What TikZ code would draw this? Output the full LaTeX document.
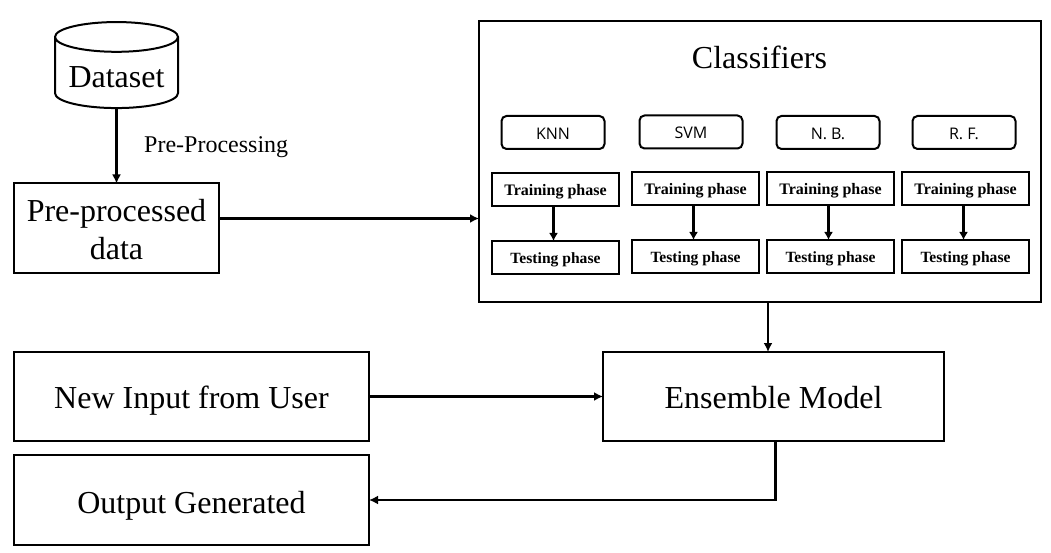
\documentclass[tikz,border=0pt]{standalone}
\usepackage{fontspec}
\setmainfont{Liberation Serif}
\setsansfont{Open Sans}
\usetikzlibrary{positioning,arrows.meta,shapes.geometric}
\tikzset{
  big box/.style={
    draw,
    line width=2pt,
    inner sep=0pt,
    outer sep=0pt,
    align=center,
    minimum width={#1pt},
    minimum height=89pt,
    text height=26pt,
    text depth=3pt,
    font=\fontsize{32}{38}\selectfont,
  },
  method box/.style={
    draw,
    line width=2pt,
    rounded corners=5pt,
    inner sep=0pt,
    outer sep=0pt,
    minimum width=103pt,
    minimum height=33pt,
    text height=14pt,
    text depth=0pt,
    font=\sffamily\fontsize{16}{18}\selectfont,
  },
  phase box/.style={
    draw,
    line width=2pt,
    inner sep=0pt,
    outer sep=0pt,
    minimum width=127pt,
    minimum height=33pt,
    text height=13pt,
    text depth=0pt,
    font=\bfseries\fontsize{16}{18}\selectfont,
  },
  test box/.style={
    phase box,
    text height=11pt,
    font=\bfseries\fontsize{15.6}{18}\selectfont,
  },
  flow/.style={
    line width=2.8pt,
    -{Latex[length=9pt,width=9pt]},
  },
  small flow/.style={
    line width=2.8pt,
    -{Latex[length=8pt,width=9pt]},
  },
}
\begin{document}
\begin{tikzpicture}[x=1pt,y=1pt]
    \useasboundingbox (0,0) rectangle (1051,-553);

    \node [draw, line width=2pt, cylinder, shape border rotate=90, aspect=0.31,
           minimum width=123pt, minimum height=86pt, inner sep=0pt, outer sep=0pt,
           text height=29pt, text depth=0pt,
           font=\fontsize{32}{38}\selectfont] (dataset) at (116.5,-73) {Dataset};
    \node [big box=205, text height=66pt] (prep) at (116.5,-228) {Pre-processed\\data};
    \node [font=\fontsize{24}{28}\selectfont, anchor=west] (label) at (140.7,-147) {Pre-Processing};

    \node [draw, line width=2pt, inner sep=0pt, outer sep=0pt,
           minimum width=562pt, minimum height=281pt] (classifiers) at (760,-161.5) {};
    \node [font=\fontsize{32}{38}\selectfont] (title) at (759.5,-57) {Classifiers};

    \node [phase box] (train1) at (555.5,-189.5) {Training phase};
    \node [phase box, right=13pt of train1, yshift=1pt] (train2) {Training phase};
    \node [phase box, right=8pt of train2] (train3) {Training phase};
    \node [phase box, right=8pt of train3] (train4) {Training phase};

    \node [test box, below=35pt of train1] (test1) {Testing phase};
    \node [test box, below=35pt of train2] (test2) {Testing phase};
    \node [test box, below=35pt of train3] (test3) {Testing phase};
    \node [test box, below=35pt of train4] (test4) {Testing phase};

    \node [method box] (knn) at (553,-132.5) {KNN};
    \node [method box, right=35pt of knn, yshift=0.5pt] (svm) {SVM};
    \node [method box, right=34pt of svm, yshift=-0.5pt] (nb) {N. B.};
    \node [method box, right=33pt of nb] (rf) {R. F.};

    \node [big box=341] (ensemble) at (773.5,-396.5) {Ensemble Model};
    \node [big box=355] (input) at (191.5,-396.5) {New Input from User};
    \node [big box=355, minimum height=90pt, text height=29pt] (output) at (191.5,-500) {Output Generated};

    \draw [flow] (dataset.south) -- (prep.north);
    \draw [flow] (prep.east |- 0,-218.5) -- (classifiers.west |- 0,-218.5);
    \foreach \i in {1,2,3,4}
        \draw [small flow] ([xshift=-2pt]train\i.south) -- ([xshift=-2pt]test\i.north);
    \draw [flow] ([xshift=8pt]classifiers.south) -- ([xshift=8pt]classifiers.south |- ensemble.north);
    \draw [flow] (input) -- (ensemble);
    \draw [flow] ([xshift=2pt]ensemble.south) |- (output.east);
\end{tikzpicture}
\end{document}
